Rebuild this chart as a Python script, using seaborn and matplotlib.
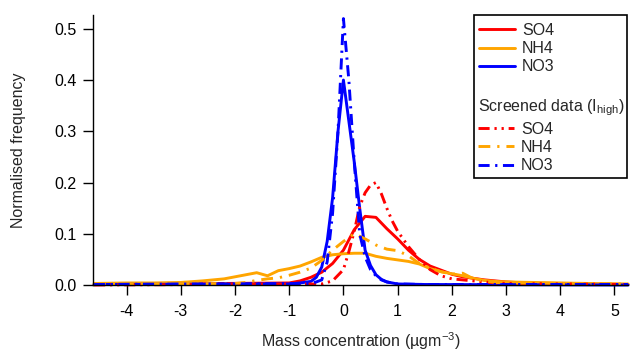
import seaborn as sns
import matplotlib.pyplot as plt
import matplotlib.patches as mpatches
from matplotlib.lines import Line2D

# Data: normalised frequency distributions
so4_x = [-4.6, -1.0, -0.8, -0.6, -0.4, -0.2, 0.0, 0.2, 0.4, 0.6, 0.8, 1.0, 1.2, 1.4,
         1.6, 1.8, 2.0, 2.2, 2.4, 2.6, 2.8, 3.0, 3.5, 4.0, 5.25]
so4_y = [0.001, 0.004, 0.008, 0.015, 0.025, 0.042, 0.068, 0.108, 0.134, 0.132, 0.11, 0.09,
         0.068, 0.05, 0.037, 0.029, 0.021, 0.016, 0.013, 0.01, 0.008, 0.006, 0.003, 0.002, 0.001]

nh4_x = [-4.6, -4.0, -3.5, -3.0, -2.6, -2.4, -2.2, -2.0, -1.8, -1.6, -1.4, -1.2, -1.0,
         -0.8, -0.6, -0.4, -0.2, 0.0, 0.2, 0.4, 0.6, 0.8, 1.0, 1.2, 1.4, 1.6, 1.8, 2.0,
         2.2, 2.4, 2.6, 2.8, 3.0, 3.5, 4.0, 4.5, 5.25]
nh4_y = [0.003, 0.004, 0.004, 0.005, 0.008, 0.01, 0.012, 0.016, 0.02, 0.024, 0.018, 0.028,
         0.032, 0.037, 0.045, 0.054, 0.059, 0.061, 0.062, 0.062, 0.056, 0.052, 0.049, 0.046,
         0.041, 0.032, 0.026, 0.022, 0.018, 0.013, 0.009, 0.007, 0.006, 0.005, 0.004, 0.003,
         0.002]

no3_x = [-4.6, -1.0, -0.8, -0.6, -0.5, -0.4, -0.3, -0.2, -0.1, 0.0, 0.1, 0.2, 0.3, 0.4,
         0.5, 0.6, 0.7, 0.8, 1.0, 1.5, 5.25]
no3_y = [0.001, 0.002, 0.004, 0.007, 0.015, 0.035, 0.085, 0.17, 0.30, 0.40, 0.32, 0.24,
         0.15, 0.068, 0.038, 0.02, 0.011, 0.006, 0.002, 0.001, 0.0]

# Screened data (I_high)
so4s_x = [-4.6, -0.4, -0.2, 0.0, 0.1, 0.2, 0.3, 0.4, 0.5, 0.6, 0.7, 0.8, 0.9, 1.0, 1.2,
          1.4, 1.6, 1.8, 2.0, 2.2, 2.4, 2.6, 2.8, 3.0, 5.25]
so4s_y = [0.0, 0.002, 0.008, 0.03, 0.065, 0.105, 0.153, 0.18, 0.195, 0.2, 0.178, 0.15,
          0.125, 0.105, 0.075, 0.05, 0.03, 0.018, 0.012, 0.01, 0.008, 0.006, 0.004, 0.003,
          0.001]

nh4s_x = [-4.6, -2.0, -1.8, -1.6, -1.4, -1.2, -1.0, -0.8, -0.6, -0.4, -0.2, 0.0, 0.2, 0.4,
          0.6, 0.8, 1.0, 1.2, 1.4, 1.6, 1.8, 2.0, 2.2, 2.4, 2.6, 2.8, 3.0, 5.25]
nh4s_y = [0.001, 0.003, 0.005, 0.009, 0.012, 0.014, 0.019, 0.025, 0.033, 0.048, 0.068,
          0.085, 0.1, 0.09, 0.078, 0.07, 0.067, 0.057, 0.042, 0.033, 0.026, 0.021, 0.023,
          0.012, 0.008, 0.005, 0.004, 0.002]

no3s_x = [-4.6, -0.6, -0.5, -0.4, -0.3, -0.2, -0.1, 0.0, 0.1, 0.2, 0.3, 0.4, 0.5, 0.6,
          0.7, 0.8, 1.0, 1.5, 5.25]
no3s_y = [0.001, 0.003, 0.006, 0.01, 0.045, 0.14, 0.30, 0.52, 0.40, 0.24, 0.10, 0.055,
          0.03, 0.018, 0.01, 0.006, 0.002, 0.001, 0.001]

sns.set_style('ticks')
plt.rcParams['font.family'] = ['Liberation Sans', 'DejaVu Sans']
plt.rcParams['mathtext.fontset'] = 'custom'
plt.rcParams['mathtext.rm'] = 'Liberation Sans'
plt.rcParams['mathtext.it'] = 'Liberation Sans:italic'
plt.rcParams['axes.unicode_minus'] = False
plt.rcParams['lines.scale_dashes'] = False

red, orange, blue = '#ff0000', '#ffa500', '#0000ff'
lw = 2.1
fs = 11.5
d_so4 = (0, (8, 3.5, 1.6, 3.5, 1.6, 3.5))
d_nh4 = (0, (8.5, 5, 1.6, 5))
d_no3 = (0, (8, 4, 1.6, 4))

fig = plt.figure(figsize=(6.3, 3.51), dpi=100)
ax = fig.add_axes([93 / 630, 1 - 285 / 351, 535 / 630, 270 / 351])

series = [
    (so4_x, so4_y, red, '-'),
    (nh4_x, nh4_y, orange, '-'),
    (no3_x, no3_y, blue, '-'),
    (so4s_x, so4s_y, red, d_so4),
    (nh4s_x, nh4s_y, orange, d_nh4),
    (no3s_x, no3s_y, blue, d_no3),
]
for xs, ys, c, ls in series:
    sns.lineplot(x=xs, y=ys, ax=ax, color=c, lw=lw, linestyle=ls, legend=False,
                 estimator=None, sort=False, clip_on=False)

ax.set_xlim(-4.62, 5.25)
ax.set_ylim(0, 0.527)
ax.set_xticks([-4, -3, -2, -1, 0, 1, 2, 3, 4, 5])
ax.set_yticks([0.0, 0.1, 0.2, 0.3, 0.4, 0.5])
sns.despine(ax=ax)
for s in ['left', 'bottom']:
    ax.spines[s].set_linewidth(1.0)
    ax.spines[s].set_color('black')
ax.tick_params(axis='x', direction='out', length=7.2, width=1.0, pad=6.5, labelsize=fs,
               colors='black')
ax.tick_params(axis='y', direction='out', length=7.2, width=1.0, pad=4.5, labelsize=fs,
               colors='black')

ax.set_xlabel('Mass concentration (µgm$^{-3}$)', fontsize=fs)
ax.set_ylabel('Normalised frequency', fontsize=fs)
ax.xaxis.set_label_coords(0.5, (285 - 330) / 270)
ax.yaxis.set_label_coords((26 - 93) / 535, 0.5)

# Legend
h1 = [Line2D([], [], color=c, lw=lw) for c in (red, orange, blue)]
h2 = [Line2D([], [], color=red, lw=lw, linestyle=d_so4),
      Line2D([], [], color=orange, lw=lw, linestyle=d_nh4),
      Line2D([], [], color=blue, lw=lw, linestyle=d_no3)]
labels = ['SO4', 'NH4', 'NO3']
kw = dict(loc='upper left', frameon=False, borderaxespad=0, borderpad=0,
          handlelength=2.25, handletextpad=0.45, labelspacing=0.2, fontsize=fs)
leg1 = fig.legend(h1, labels, bbox_to_anchor=(479 / 630, 1 - 23 / 351), **kw)
leg2 = fig.legend(h2, labels, bbox_to_anchor=(478 / 630, 1 - 97 / 351),
                  title='Screened data (I$_{\\mathrm{high}}$)', title_fontsize=fs,
                  alignment='left', **kw)
leg2._legend_box.sep = 3
fig.add_artist(mpatches.Rectangle((474 / 630, 1 - 178 / 351), 153 / 630, 163 / 351,
                                  transform=fig.transFigure, fill=False,
                                  edgecolor='black', lw=1.2))

fig.savefig('out.png', dpi=100)
